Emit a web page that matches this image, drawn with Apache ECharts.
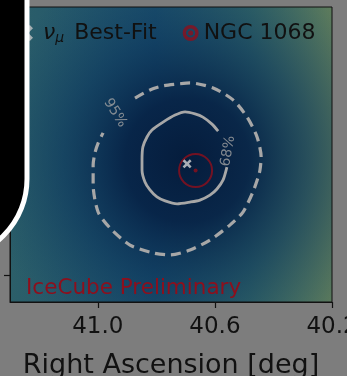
<!DOCTYPE html>
<html>
<head>
<meta charset="utf-8">
<script src="https://cdn.jsdelivr.net/npm/echarts@6/dist/echarts.min.js"></script>
<style>
html,body{margin:0;padding:0;background:#7d7d7d;}
#chart{width:347px;height:376px;}
</style>
</head>
<body>
<div id="chart"></div>
<script>
// ---- data (RA / Dec in degrees) ----
const xTicks = [41.0, 40.6, 40.2];
const yTicks = [-0.4, 0.0, 0.4];
const ra95  = [40.873,40.822,40.777,40.729,40.685,40.606,40.538,40.490,40.456,40.442,40.446,40.453,40.470,40.504,40.548,40.617,40.685,40.753,40.811,40.890,40.958,40.999,41.016,41.016,41.010,40.999,40.982];
const dec95 = [0.208,0.236,0.250,0.256,0.260,0.243,0.202,0.143,0.075,0.006,-0.038,-0.065,-0.113,-0.182,-0.226,-0.278,-0.312,-0.329,-0.322,-0.295,-0.237,-0.182,-0.089,-0.021,0.020,0.054,0.089];
const ra68  = [40.559,40.572,40.593,40.617,40.651,40.685,40.729,40.770,40.798,40.822,40.839,40.849,40.849,40.846,40.832,40.815,40.777,40.736,40.702,40.668,40.641,40.610,40.589];
const dec68 = [-0.028,-0.072,-0.103,-0.124,-0.141,-0.148,-0.154,-0.144,-0.130,-0.106,-0.079,-0.038,-0.004,0.041,0.075,0.099,0.126,0.150,0.161,0.154,0.143,0.119,0.095];
const bestFit = [40.695, -0.017];
const ngc1068 = [40.666, -0.040];
const contourLabels = [
  {name: '95%', value: [40.941, 0.157], rot: -58},
  {name: '68%', value: [40.555, 0.027], rot: 80}
];
const seriesNames = {best: 'νμ Best-Fit', ngc: 'NGC 1068'};

const zip = (a, b) => a.map((v, i) => [v, b[i]]);

const FONT = 'DejaVu Sans';
const RED = '#8e0f1c';
const crossPath = 'path://M2,0 L5,3 L8,0 L10,2 L7,5 L10,8 L8,10 L5,7 L2,10 L0,8 L3,5 L0,2 Z';
const targetPath = 'path://M8,0 A8,8 0 1,1 8,16 A8,8 0 1,1 8,0 Z M8,3.4 A4.6,4.6 0 1,0 8,12.6 A4.6,4.6 0 1,0 8,3.4 Z M8,5.5 A2.5,2.5 0 1,1 8,10.5 A2.5,2.5 0 1,1 8,5.5 Z';

const chart = echarts.init(document.getElementById('chart'), null, {renderer: 'canvas'});

const gridPos = {left: 10, top: 7, right: 15, bottom: 74, containLabel: false, outerBoundsMode: 'none'};

const legendRich = {
  it: {fontFamily: FONT, fontSize: 22, fontStyle: 'italic', color: '#111'},
  sub: {fontFamily: FONT, fontSize: 14, fontStyle: 'italic', color: '#111', padding: [10, 3, 0, 0]}
};

chart.setOption({
  backgroundColor: '#7d7d7d',
  animation: false,
  textStyle: {fontFamily: FONT},
  title: {
    text: 'IceCube Preliminary',
    left: 26, top: 277,
    padding: 0,
    textStyle: {fontFamily: FONT, fontSize: 21.5, fontWeight: 'normal', color: RED}
  },
  legend: {
    left: 17, top: 22,
    padding: 0,
    itemGap: 26,
    itemWidth: 16, itemHeight: 16,
    selectedMode: false,
    data: [
      {name: seriesNames.best, icon: crossPath, itemStyle: {color: '#c4c4c4'},
        textStyle: {fontFamily: FONT, fontSize: 22, color: '#111', padding: [0, 0, 0, 5], rich: legendRich}},
      {name: seriesNames.ngc, icon: targetPath, itemStyle: {color: RED, borderWidth: 0}}
    ],
    formatter: function (n) {
      return n === seriesNames.best ? '{it|ν}{sub|μ} Best-Fit' : 'NGC 1068';
    },
    textStyle: {
      fontFamily: FONT, fontSize: 22, color: '#111',
      rich: legendRich
    }
  },
  grid: [
    Object.assign({show: true, borderWidth: 0,
      backgroundColor: {type: 'linear', x: 0, y: 0, x2: 1, y2: 0, colorStops: [
        {offset: 0, color: '#2c5f69'},
        {offset: 0.45, color: '#1c4f6e'},
        {offset: 0.75, color: '#356767'},
        {offset: 1, color: '#5d7b5c'}
      ]}}, gridPos),
    Object.assign({show: true, borderColor: '#111', borderWidth: 1,
      backgroundColor: {type: 'radial', x: 0.55, y: 0.52, r: 0.7, colorStops: [
        {offset: 0, color: 'rgba(5,28,60,1)'},
        {offset: 0.3, color: 'rgba(6,34,70,0.92)'},
        {offset: 0.6, color: 'rgba(10,52,90,0.55)'},
        {offset: 1, color: 'rgba(20,70,100,0)'}
      ]}}, gridPos)
  ],
  xAxis: [{
    type: 'value', gridIndex: 0, min: 40.2, max: 41.3, inverse: true,
    name: 'Right Ascension [deg]', nameLocation: 'middle', nameGap: 50,
    nameTextStyle: {fontFamily: FONT, fontSize: 27, color: '#111'},
    axisLine: {show: true, onZero: false, lineStyle: {color: '#111', width: 1}},
    axisTick: {show: true, length: 6, lineStyle: {color: '#111', width: 1.2}, customValues: xTicks},
    axisLabel: {show: true, margin: 14, fontFamily: FONT, fontSize: 23, color: '#111', customValues: xTicks,
      formatter: v => v.toFixed(1)},
    splitLine: {show: false}
  }, {
    type: 'value', gridIndex: 1, min: 40.2, max: 41.3, inverse: true, show: false
  }],
  yAxis: [{
    type: 'value', gridIndex: 0, min: -0.49, max: 0.52,
    axisLine: {show: true, onZero: false, lineStyle: {color: '#111', width: 1}},
    axisTick: {show: true, length: 6, lineStyle: {color: '#111', width: 1.2}, customValues: yTicks},
    axisLabel: {show: false, customValues: yTicks},
    splitLine: {show: false}
  }, {
    type: 'value', gridIndex: 1, min: -0.49, max: 0.52, show: false
  }],
  series: [
    {
      name: '95%', type: 'line', xAxisIndex: 0, yAxisIndex: 0, z: 3,
      data: zip(ra95, dec95), showSymbol: false, smooth: 0.25,
      lineStyle: {color: '#a7a7a7', width: 3.2, type: [10, 6], cap: 'butt'}
    },
    {
      name: '68%', type: 'line', xAxisIndex: 0, yAxisIndex: 0, z: 3,
      data: zip(ra68, dec68), showSymbol: false, smooth: 0.25,
      lineStyle: {color: '#a7a7a7', width: 2.8, type: 'solid'}
    },
    {
      name: 'contour labels', type: 'scatter', z: 4, symbolSize: 0,
      data: contourLabels.map(d => ({name: d.name, value: d.value,
        label: {show: true, position: 'inside', formatter: '{b}', rotate: d.rot,
          fontFamily: FONT, fontSize: 14, color: '#a3a3a3'}}))
    },
    {
      name: seriesNames.ngc, type: 'scatter', z: 5,
      symbol: 'circle', symbolSize: 33,
      itemStyle: {color: 'rgba(0,0,0,0)', borderColor: RED, borderWidth: 2},
      data: [ngc1068]
    },
    {
      name: seriesNames.ngc, type: 'scatter', z: 5,
      symbol: 'circle', symbolSize: 4,
      itemStyle: {color: RED},
      data: [ngc1068]
    },
    {
      name: seriesNames.best, type: 'scatter', z: 6,
      symbol: crossPath, symbolSize: 9,
      itemStyle: {color: '#d2d2d2'},
      data: [bestFit]
    }
  ],
  graphic: [{
    type: 'rect', z: 100, silent: true,
    shape: {x: -300, y: -300, width: 327, height: 559, r: 80},
    style: {fill: '#000', stroke: '#fff', lineWidth: 5}
  }]
});
</script>
</body>
</html>
